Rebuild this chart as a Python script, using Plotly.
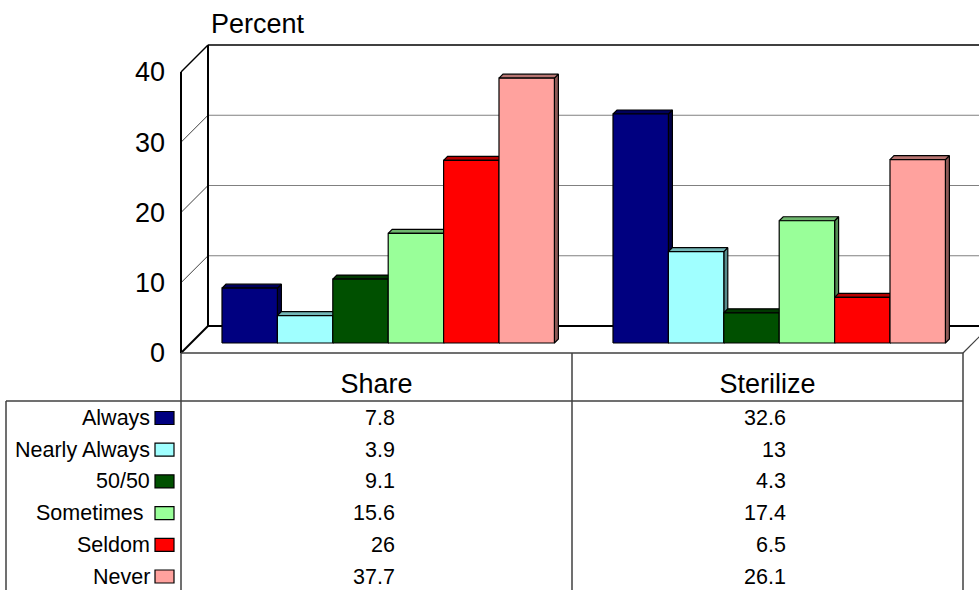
import plotly.graph_objects as go

# ---- data ---------------------------------------------------------------
categories = ["Share", "Sterilize"]
series = ["Always", "Nearly Always", "50/50", "Sometimes\u00a0", "Seldom", "Never"]
share = [7.8, 3.9, 9.1, 15.6, 26, 37.7]
sterilize = [32.6, 13, 4.3, 17.4, 6.5, 26.1]
values = [share, sterilize]
y_ticks = [0, 10, 20, 30, 40]

face_colors = ["#000080", "#A0FFFF", "#005000", "#99FF99", "#FF0000", "#FFA29E"]

# ---- layout geometry (pixels) ------------------------------------------
W, H = 979, 590
X0_PX, Y0_PX = 181, 353        # front-left corner of the floor
CAT_PX = 391                   # width of one category column
UNIT_PX = 7.025                # pixels per percent
WALL_D = 27                    # depth of the walls
BAR_OFF_X, BAR_OFF_Y = 11.7, 10  # bar plane offset behind the front edge
BAR_D = 4                      # depth of each column
BAR_W_PX = 55.4
FONT = "Liberation Sans, Arial, sans-serif"


def px_x(px):
    return (px - X0_PX) / CAT_PX


def px_y(py):
    return (Y0_PX - py) / UNIT_PX


def dx(px):
    return px / CAT_PX


def dy(px):
    return px / UNIT_PX


def shade(hex_color, f):
    h = hex_color.lstrip("#")
    r, g, b = (int(h[i:i + 2], 16) for i in (0, 2, 4))
    return "rgb({},{},{})".format(int(r * f), int(g * f), int(b * f))


n_cat = len(categories)
ymax = y_ticks[-1]
wx, wy = dx(WALL_D), dy(WALL_D)
bw = dx(BAR_W_PX)
side_gap = (1 - len(series) * bw) / 2
bdx, bdy = dx(BAR_D), dy(BAR_D)
base = dy(BAR_OFF_Y)

fig = go.Figure()

# ---- 3-D columns --------------------------------------------------------
for j, name in enumerate(series):
    fx, fy, tx, ty, sx, sy = [], [], [], [], [], []
    for i in range(n_cat):
        v = values[i][j]
        xl = i + dx(BAR_OFF_X) + side_gap + j * bw
        xr = xl + bw
        yt = base + v
        fx += [xl, xr, xr, xl, xl, None]
        fy += [base, base, yt, yt, base, None]
        tx += [xl, xr, xr + bdx, xl + bdx, xl, None]
        ty += [yt, yt, yt + bdy, yt + bdy, yt, None]
        sx += [xr, xr + bdx, xr + bdx, xr, xr, None]
        sy += [base, base + bdy, yt + bdy, yt, base, None]
    c = face_colors[j]
    for px_, py_, col in ((sx, sy, shade(c, 0.55)), (tx, ty, shade(c, 0.72)), (fx, fy, c)):
        fig.add_trace(go.Scatter(
            x=px_, y=py_, mode="lines", fill="toself", fillcolor=col,
            line=dict(color="#000000", width=1.2), name=name,
            showlegend=False, hoverinfo="skip"))

# ---- walls, floor and gridlines ----------------------------------------
shapes = []


def seg(x0, y0, x1, y1, color="#000000", width=1.5, layer="below", ref="data"):
    shapes.append(dict(type="line", xref="x", yref="y", x0=x0, y0=y0, x1=x1, y1=y1,
                       line=dict(color=color, width=width), layer=layer))


far = n_cat + wx
for t in y_ticks[1:-1]:
    seg(wx, t + wy, far, t + wy, color="#808080", width=1.2)
    seg(0, t, wx, t + wy, color="#404040", width=1)
seg(wx, ymax + wy, far, ymax + wy)                 # back wall top
seg(wx, wy, wx, ymax + wy, width=2)                 # back wall left edge
seg(0, ymax, wx, ymax + wy)                         # left wall top
seg(0, 0, 0, ymax, width=2)                         # front vertical axis
seg(0, 0, wx, wy, width=2)                          # floor left
seg(wx, wy, far, wy, width=2)                       # floor back
seg(n_cat, 0, far, wy, color="#404040", width=1.2)  # floor right
seg(0, 0, n_cat, 0, color="#404040", width=1.5)     # floor front

# ---- data table -----------------------------------------------------------
TBL_LEFT = 6
TBL_HEAD = 401
ROW0, ROW_STEP = 418, 31.7
bottom = px_y(H + 5)
seg(px_x(TBL_LEFT), px_y(TBL_HEAD), n_cat, px_y(TBL_HEAD), color="#404040", width=1.5, layer="above")
seg(px_x(TBL_LEFT), px_y(TBL_HEAD), px_x(TBL_LEFT), bottom, color="#404040", width=1.5, layer="above")
for i in range(n_cat + 1):
    seg(i, 0, i, bottom, color="#404040", width=1.5, layer="above")

annotations = []
for j, name in enumerate(series):
    ry = px_y(ROW0 + j * ROW_STEP)
    annotations.append(dict(x=px_x(152), y=ry, xref="x", yref="y", text=name,
                            xanchor="right", yanchor="middle", showarrow=False,
                            font=dict(family=FONT, size=21.5, color="#000000")))
    shapes.append(dict(type="rect", xref="x", yref="y",
                       x0=px_x(155), x1=px_x(174),
                       y0=ry - dy(6.5), y1=ry + dy(6.5),
                       fillcolor=face_colors[j], line=dict(color="#000000", width=1.2),
                       layer="above"))
    for i in range(n_cat):
        annotations.append(dict(x=i + 0.5 + dx(20.5), y=ry, xref="x", yref="y",
                                text=f"{values[i][j]:g}", xanchor="right", yanchor="middle",
                                showarrow=False,
                                font=dict(family=FONT, size=21.5, color="#000000")))

annotations.append(dict(x=px_x(209), y=px_y(24), xref="x", yref="y", text="Percent",
                        xanchor="left", yanchor="middle", showarrow=False,
                        font=dict(family=FONT, size=27, color="#000000")))

fig.update_layout(
    width=W, height=H, autosize=False,
    margin=dict(l=0, r=0, t=0, b=0, pad=0),
    paper_bgcolor="#FFFFFF", plot_bgcolor="#FFFFFF",
    showlegend=False,
    shapes=shapes, annotations=annotations,
    xaxis=dict(range=[px_x(0), px_x(W)], domain=[0, 1], anchor="free",
               position=1 - Y0_PX / H,
               tickvals=[i + 0.5 for i in range(n_cat)], ticktext=categories,
               ticks="", showgrid=False, zeroline=False, showline=False,
               ticklabelstandoff=12,
               tickfont=dict(family=FONT, size=27, color="#000000")),
    yaxis=dict(range=[px_y(H), px_y(0)], domain=[0, 1], anchor="free",
               position=X0_PX / W,
               tickvals=y_ticks, ticktext=[str(t) for t in y_ticks],
               ticks="", showgrid=False, zeroline=False, showline=False,
               ticklabelstandoff=16,
               tickfont=dict(family=FONT, size=27, color="#000000")),
)

fig.write_html("out.html")
